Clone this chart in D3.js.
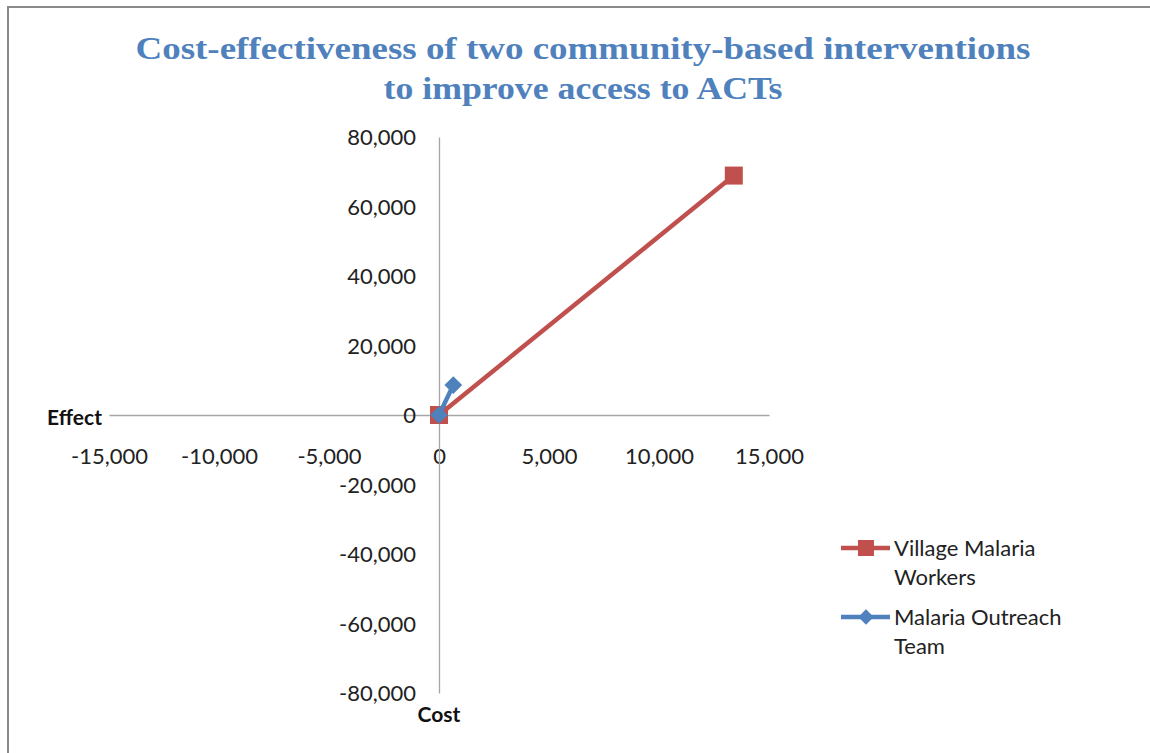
<!DOCTYPE html>
<html>
<head>
<meta charset="utf-8">
<script src="https://cdn.jsdelivr.net/npm/d3@7"></script>
<style>
body { margin:0; background:#fff; }
</style>
</head>
<body>
<div id="chart-area"></div>
<script>
// cost-effectiveness plane
var seriesNames = ['Village Malaria Workers', 'Malaria Outreach Team'];
var vmwCost = [0, 13400];
var vmwEffect = [0, 68900];
var motCost = [0, 650];
var motEffect = [0, 8600];
var xTicks = [-15000, -10000, -5000, 0, 5000, 10000, 15000];
var yTicks = [-80000, -60000, -40000, -20000, 0, 20000, 40000, 60000, 80000];

var svgWidth = 1150, svgHeight = 753;
var font = 'Lato, "Open Sans", sans-serif';

var svg = d3.select('#chart-area')
            .append('svg')
            .attr('width', svgWidth)
            .attr('height', svgHeight);

// frame (top + left only, as in the screenshot)
svg.append('rect').attr('x', 7).attr('y', 6).attr('width', svgWidth).attr('height', 2).attr('fill', '#8a8a8a');
svg.append('rect').attr('x', 7).attr('y', 6).attr('width', 2).attr('height', svgHeight).attr('fill', '#8a8a8a');

// title
var title = svg.append('text')
   .attr('text-anchor', 'middle')
   .attr('fill', '#4F81BD')
   .attr('font-family', '"Liberation Serif", serif')
   .attr('font-weight', 'bold')
   .attr('font-size', 32);
title.append('tspan').attr('x', 583).attr('y', 59)
   .attr('textLength', 895).attr('lengthAdjust', 'spacingAndGlyphs')
   .text('Cost-effectiveness of two community-based interventions');
title.append('tspan').attr('x', 583).attr('y', 99)
   .attr('textLength', 399).attr('lengthAdjust', 'spacingAndGlyphs')
   .text('to improve access to ACTs');

var xScale = d3.scaleLinear().domain([-15000, 15000]).range([109, 769]);
var yScale = d3.scaleLinear().domain([-80000, 80000]).range([693, 137]);

var fmt = function(d){ return d3.format(',')(d).replace('\u2212', '-'); };

// axes crossing at origin
var xAxis = d3.axisBottom(xScale).tickValues(xTicks).tickSize(0).tickPadding(0).tickFormat(fmt);
var gx = svg.append('g')
   .attr('transform', 'translate(0,' + yScale(0) + ')')
   .call(xAxis);
gx.select('.domain').attr('stroke', '#a6a6a6').attr('stroke-width', 1.3);
gx.selectAll('text')
  .attr('y', 49)
  .attr('dy', 0)
  .attr('fill', '#222')
  .attr('font-family', font)
  .attr('font-size', 22);

var yAxis = d3.axisLeft(yScale).tickValues(yTicks).tickSize(0).tickPadding(0).tickFormat(fmt);
var gy = svg.append('g')
   .attr('transform', 'translate(' + xScale(0) + ',0)')
   .call(yAxis);
gy.select('.domain').attr('stroke', '#a6a6a6').attr('stroke-width', 1.3);
gy.selectAll('text')
  .attr('x', -23)
  .attr('dy', '0.35em')
  .attr('fill', '#222')
  .attr('font-family', font)
  .attr('font-size', 22);

// axis titles
svg.append('text')
   .attr('x', 102).attr('y', yScale(0) + 10)
   .attr('text-anchor', 'end')
   .attr('font-family', font)
   .attr('font-weight', 'bold')
   .attr('font-size', 21)
   .attr('fill', '#111')
   .text('Effect');
svg.append('text')
   .attr('x', xScale(0)).attr('y', 722)
   .attr('text-anchor', 'middle')
   .attr('font-family', font)
   .attr('font-weight', 'bold')
   .attr('font-size', 21)
   .attr('fill', '#111')
   .text('Cost');

var line = d3.line().x(function(d){ return xScale(d[0]); }).y(function(d){ return yScale(d[1]); });

var vmw = vmwCost.map(function(c, i){ return [c, vmwEffect[i]]; });
var mot = motCost.map(function(c, i){ return [c, motEffect[i]]; });

svg.append('path').datum(vmw).attr('d', line)
   .attr('fill', 'none').attr('stroke', '#C0504D').attr('stroke-width', 4.5);
svg.selectAll('.vmw').data(vmw).enter().append('rect')
   .attr('x', function(d){ return xScale(d[0]) - 9; })
   .attr('y', function(d){ return yScale(d[1]) - 9; })
   .attr('width', 18).attr('height', 18)
   .attr('fill', '#C0504D');

svg.append('path').datum(mot).attr('d', line)
   .attr('fill', 'none').attr('stroke', '#4F81BD').attr('stroke-width', 4.5);
var diamond = d3.symbol().type(d3.symbolDiamond2).size(200);
svg.selectAll('.mot').data(mot).enter().append('path')
   .attr('d', diamond)
   .attr('transform', function(d){ return 'translate(' + xScale(d[0]) + ',' + yScale(d[1]) + ')'; })
   .attr('fill', '#4F81BD');

// legend
var legend = svg.append('g');
var legendItems = [
  {color:'#C0504D', lines:['Village Malaria', 'Workers'], y:548, marker:'square'},
  {color:'#4F81BD', lines:['Malaria Outreach', 'Team'], y:617, marker:'diamond'}
];
legendItems.forEach(function(it){
  legend.append('line')
    .attr('x1', 841).attr('x2', 890).attr('y1', it.y).attr('y2', it.y)
    .attr('stroke', it.color).attr('stroke-width', 4.5);
  if (it.marker === 'square') {
    legend.append('rect').attr('x', 858).attr('y', it.y - 8).attr('width', 16).attr('height', 16).attr('fill', it.color);
  } else {
    legend.append('path').attr('d', d3.symbol().type(d3.symbolDiamond2).size(150))
      .attr('transform', 'translate(866,' + it.y + ')').attr('fill', it.color);
  }
  var t = legend.append('text')
    .attr('font-family', font).attr('font-size', 22).attr('fill', '#222');
  it.lines.forEach(function(s, j){
    t.append('tspan').attr('x', 894).attr('y', it.y + 8 + j * 29).text(s);
  });
});
</script>
</body>
</html>
